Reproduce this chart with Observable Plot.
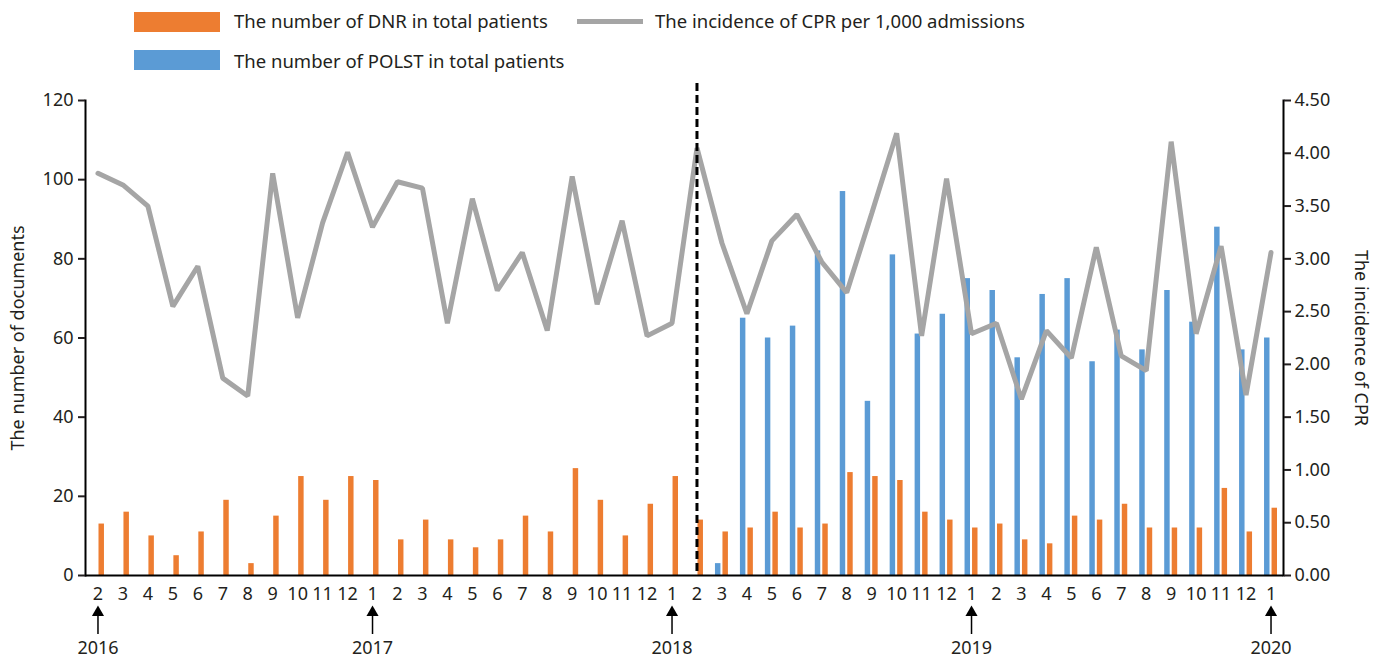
<!DOCTYPE html>
<html>
<head>
<meta charset="utf-8">
<script src="https://cdn.jsdelivr.net/npm/d3@7"></script>
<script src="https://cdn.jsdelivr.net/npm/@observablehq/plot@0.6"></script>
<style>
  html, body { margin: 0; padding: 0; background: #fff; }
  body { width: 1386px; height: 658px; overflow: hidden; font-family: "Noto Sans", sans-serif; color: #231f20; }
  #legend { position: relative; width: 1386px; height: 80px; }
  #legend .sw { position: absolute; }
  #legend .lbl { position: absolute; font-size: 18.5px; line-height: 20px; white-space: nowrap; }
  #chart svg { display: block; overflow: visible; }
</style>
</head>
<body>
<div id="legend"></div>
<div id="chart"></div>
<script>
// ---- data ----
const monthLabels = [2,3,4,5,6,7,8,9,10,11,12, 1,2,3,4,5,6,7,8,9,10,11,12, 1,2,3,4,5,6,7,8,9,10,11,12, 1,2,3,4,5,6,7,8,9,10,11,12, 1];
const yearOfMonth = [2016,2016,2016,2016,2016,2016,2016,2016,2016,2016,2016,
  2017,2017,2017,2017,2017,2017,2017,2017,2017,2017,2017,2017,
  2018,2018,2018,2018,2018,2018,2018,2018,2018,2018,2018,2018,
  2019,2019,2019,2019,2019,2019,2019,2019,2019,2019,2019,2019,
  2020];
const dnr = [13,16,10,5,11,19,3,15,25,19,25,
  24,9,14,9,7,9,15,11,27,19,10,18,
  25,14,11,12,16,12,13,26,25,24,16,14,
  12,13,9,8,15,14,18,12,12,12,22,11,
  17];
const polst = [null,null,null,null,null,null,null,null,null,null,null,
  null,null,null,null,null,null,null,null,null,null,null,null,
  null,null,3,65,60,63,82,97,44,81,61,66,
  75,72,55,71,75,54,62,57,72,64,88,57,
  60];
const cpr = [3.81,3.70,3.50,2.55,2.93,1.87,1.70,3.81,2.44,3.34,4.01,
  3.30,3.73,3.67,2.39,3.57,2.70,3.06,2.32,3.78,2.57,3.36,2.27,
  2.39,4.05,3.15,2.48,3.17,3.42,2.97,2.68,3.43,4.19,2.27,3.76,
  2.29,2.39,1.67,2.32,2.06,3.11,2.08,1.94,4.11,2.29,3.12,1.71,
  3.06];
const leftTicks = [0,20,40,60,80,100,120];
const rightTicks = [0,0.5,1,1.5,2,2.5,3,3.5,4,4.5];
const yearMarks = [
  {key: "2016-2", year: "2016"},
  {key: "2017-1", year: "2017"},
  {key: "2018-1", year: "2018"},
  {key: "2019-1", year: "2019"},
  {key: "2020-1", year: "2020"}
];
const policyStart = ["2018-2"];
const seriesNames = {
  dnr: "The number of DNR in total patients",
  polst: "The number of POLST in total patients",
  cpr: "The incidence of CPR per 1,000 admissions"
};
const colors = {dnr: "#ED7D31", polst: "#5B9BD5", cpr: "#A5A5A5"};
const leftLabel = "The number of documents";
const rightLabel = "The incidence of CPR";

// ---- build table ----
const keys = monthLabels.map((m, i) => `${yearOfMonth[i]}-${m}`);
const rows = keys.map((k, i) => ({key: k, month: monthLabels[i], dnr: dnr[i], polst: polst[i], cpr: cpr[i]}));
const polstRows = rows.filter(d => d.polst != null);
const monthOf = new Map(rows.map(d => [d.key, d.month]));
const leftMax = 120, rightMax = 4.5;
const k = leftMax / rightMax; // right-axis values mapped onto the left scale

// ---- legend ----
const legend = document.getElementById("legend");
legend.innerHTML = `
  <div class="sw" style="left:134px;top:12px;width:86px;height:20px;background:${colors.dnr}"></div>
  <div class="lbl" style="left:234px;top:11px">${seriesNames.dnr}</div>
  <div class="sw" style="left:577px;top:19px;width:66px;height:5px;background:${colors.cpr}"></div>
  <div class="lbl" style="left:655px;top:11px">${seriesNames.cpr}</div>
  <div class="sw" style="left:134px;top:50px;width:86px;height:20px;background:${colors.polst}"></div>
  <div class="lbl" style="left:234px;top:51px">${seriesNames.polst}</div>
`;

// ---- chart ----
const chart = Plot.plot({
  width: 1386,
  height: 578,
  marginTop: 20,
  marginBottom: 83,
  marginLeft: 85,
  marginRight: 103,
  style: {fontFamily: "Noto Sans, sans-serif", fontSize: "18px", color: "#231f20", background: "#fff"},
  x: {type: "band", domain: keys, padding: 0},
  y: {domain: [0, leftMax]},
  marks: [
    Plot.barY(rows, {x: "key", y: "dnr", fill: colors.dnr, insetLeft: 13.5, insetRight: 6}),
    Plot.barY(polstRows, {x: "key", y: "polst", fill: colors.polst, insetLeft: 6, insetRight: 13.5}),
    Plot.line(rows, {x: "key", y: d => d.cpr * k, stroke: colors.cpr, strokeWidth: 5, strokeLinejoin: "miter"}),
    Plot.ruleX(policyStart, {x: d => d, stroke: "#000", strokeWidth: 3, strokeDasharray: "8,4", insetTop: -17}),
    Plot.ruleY([0], {stroke: "#000", strokeWidth: 2}),
    Plot.frame({anchor: "left", stroke: "#000", strokeWidth: 2}),
    Plot.frame({anchor: "right", stroke: "#000", strokeWidth: 2}),
    Plot.axisY({anchor: "left", ticks: leftTicks, tickSize: 7, tickPadding: 5, label: null, strokeWidth: 2, fontSize: 18}),
    Plot.axisY({anchor: "right", ticks: rightTicks.map(v => v * k), tickFormat: v => (v / k).toFixed(2), tickSize: 7, tickPadding: 4, label: null, strokeWidth: 2, fontSize: 18}),
    Plot.axisX({tickSize: 0, tickPadding: 12, tickFormat: d => monthOf.get(d), label: null, fontSize: 18}),
    Plot.text([leftLabel], {frameAnchor: "left", textAnchor: "middle", dx: -67, rotate: -90, fontSize: 18, fill: "#231f20"}),
    Plot.text([rightLabel], {frameAnchor: "right", textAnchor: "middle", dx: 77, rotate: 90, fontSize: 18, fill: "#231f20"}),
    Plot.ruleX(yearMarks, {x: "key", stroke: "#000", strokeWidth: 1.5, insetTop: 451, dy: 59}),
    Plot.dot(yearMarks, {x: "key", frameAnchor: "bottom", symbol: "triangle", r: 4.5, fill: "#000", stroke: "none", dy: 37}),
    Plot.text(yearMarks, {x: "key", text: "year", frameAnchor: "bottom", dy: 73, lineAnchor: "middle", fontSize: 18, fill: "#231f20"})
  ]
});
document.getElementById("chart").appendChild(chart);
</script>
</body>
</html>
